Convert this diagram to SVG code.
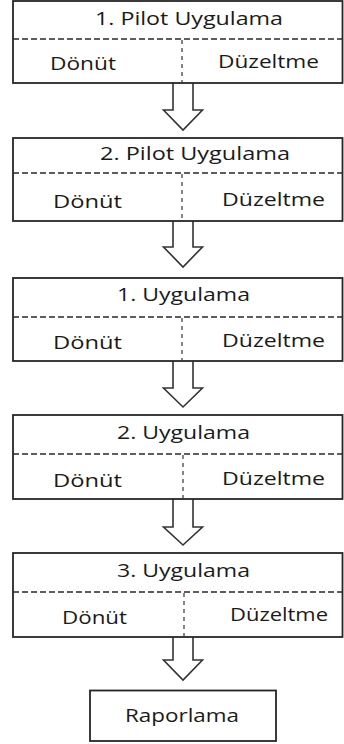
<svg xmlns="http://www.w3.org/2000/svg" width="344" height="744" viewBox="0 0 344 744">
<style>
.box{fill:#fff;stroke:#262626;stroke-width:1.8}
.hd{fill:none;stroke:#2a2a2a;stroke-width:1.3;stroke-dasharray:6 3}
.vd{fill:none;stroke:#444;stroke-width:1.3;stroke-dasharray:4 4}
.arr{fill:#fff;stroke:#333;stroke-width:1.6;stroke-linejoin:miter}
text{font-family:"Open Sans","Liberation Sans",sans-serif;font-size:19px;fill:#1a1a1a}
</style>
<rect width="344" height="744" fill="#fff"/>
<g id="connectors">
<path class="arr" d="M173,83 V110 H163.5 L183,130 L202.5,110 H193 V83"/>
<path class="arr" d="M173,221 V247 H163.5 L183,267 L202.5,247 H193 V221"/>
<path class="arr" d="M173,361 V388 H163.5 L183,407 L202.5,388 H193 V361"/>
<path class="arr" d="M173,499 V527 H163.5 L183,545 L202.5,527 H193 V499"/>
<path class="arr" d="M173,637 V660 H163.5 L183,680 L202.5,660 H193 V637"/>
</g>
<g id="pilot1">
<rect class="box" x="13" y="1" width="329.5" height="82"/>
<line class="hd" x1="13" y1="39" x2="342" y2="39"/>
<line class="vd" x1="182" y1="40" x2="182" y2="82"/>
<text x="95" y="25" textLength="188" lengthAdjust="spacingAndGlyphs">1. Pilot Uygulama</text>
<text x="50" y="69.5" textLength="66" lengthAdjust="spacingAndGlyphs">Dönüt</text>
<text x="218" y="67.5" textLength="101" lengthAdjust="spacingAndGlyphs">Düzeltme</text>
</g>
<g id="pilot2">
<rect class="box" x="13" y="138" width="329.5" height="83"/>
<line class="hd" x1="13" y1="173" x2="342" y2="173"/>
<line class="vd" x1="182" y1="174" x2="182" y2="220"/>
<text x="100" y="160" textLength="190" lengthAdjust="spacingAndGlyphs">2. Pilot Uygulama</text>
<text x="53" y="208" textLength="69" lengthAdjust="spacingAndGlyphs">Dönüt</text>
<text x="222" y="206" textLength="103" lengthAdjust="spacingAndGlyphs">Düzeltme</text>
</g>
<g id="uyg1">
<rect class="box" x="13" y="278" width="329.5" height="83"/>
<line class="hd" x1="13" y1="317" x2="342" y2="317"/>
<line class="vd" x1="182" y1="318" x2="182" y2="360"/>
<text x="117" y="301" textLength="133" lengthAdjust="spacingAndGlyphs">1. Uygulama</text>
<text x="53" y="349" textLength="69" lengthAdjust="spacingAndGlyphs">Dönüt</text>
<text x="222" y="347" textLength="103" lengthAdjust="spacingAndGlyphs">Düzeltme</text>
</g>
<g id="uyg2">
<rect class="box" x="13" y="415" width="329.5" height="84"/>
<line class="hd" x1="13" y1="454" x2="342" y2="454"/>
<line class="vd" x1="183" y1="455" x2="183" y2="498"/>
<text x="117" y="439" textLength="133" lengthAdjust="spacingAndGlyphs">2. Uygulama</text>
<text x="53" y="487" textLength="69" lengthAdjust="spacingAndGlyphs">Dönüt</text>
<text x="222" y="485" textLength="103" lengthAdjust="spacingAndGlyphs">Düzeltme</text>
</g>
<g id="uyg3">
<rect class="box" x="13" y="553" width="329.5" height="84"/>
<line class="hd" x1="13" y1="592" x2="342" y2="592"/>
<line class="vd" x1="184" y1="593" x2="184" y2="636"/>
<text x="117" y="577" textLength="133" lengthAdjust="spacingAndGlyphs">3. Uygulama</text>
<text x="62" y="623.5" textLength="65" lengthAdjust="spacingAndGlyphs">Dönüt</text>
<text x="230" y="621" textLength="98" lengthAdjust="spacingAndGlyphs">Düzeltme</text>
</g>
<g id="rapor">
<rect class="box" x="90" y="690.5" width="186" height="50.5"/>
<text x="125" y="721.5" textLength="114" lengthAdjust="spacingAndGlyphs">Raporlama</text>
</g>
</svg>
